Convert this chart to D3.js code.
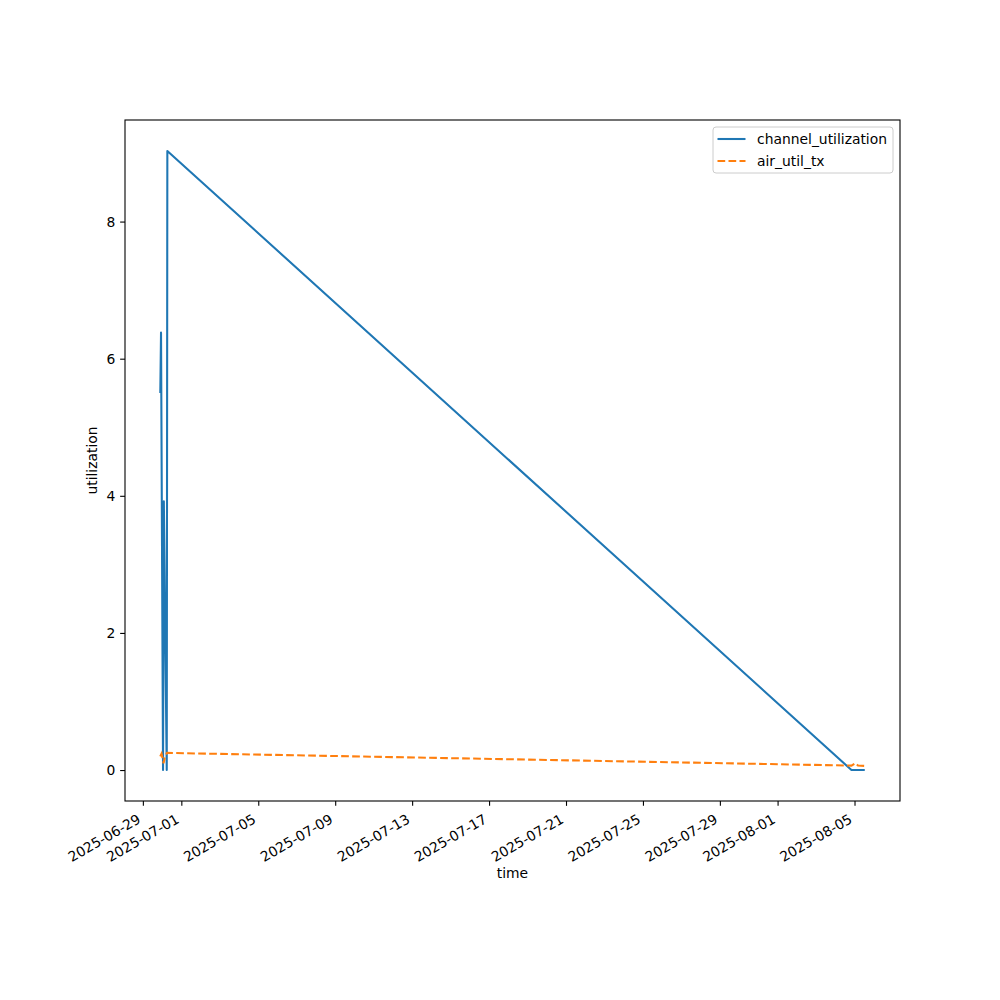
<!DOCTYPE html>
<html lang="en">
<head>
    <meta charset="UTF-8">
    <script src="https://d3js.org/d3.v7.min.js"></script>
    <title>utilization</title>
    <style>
        body { margin: 0; background: #fff; }
        svg text { font-family: "DejaVu Sans", sans-serif; font-size: 13.89px; fill: #000; }
    </style>
</head>
<body>
    <div id="chart"></div>
    <script>
        // data
        const chanTimes = ["2025-06-29T21:45", "2025-06-29T22:40", "2025-06-30T01:10", "2025-06-30T02:10",
                           "2025-06-30T05:48", "2025-06-30T06:33", "2025-08-04T20:12", "2025-08-05T12:48"];
        const chanUtil = [5.5, 6.38, 0, 3.92, 0, 9.03, 0, 0];

        const airTimes = ["2025-06-29T21:40", "2025-06-29T23:19", "2025-06-30T01:48", "2025-06-30T03:41",
                          "2025-06-30T06:10", "2025-08-04T20:12", "2025-08-05T01:12", "2025-08-05T04:19",
                          "2025-08-05T12:48"];
        const airUtil = [0.2, 0.24, 0.1, 0.2, 0.25, 0.065, 0.1, 0.065, 0.06];

        const xTicks = ["2025-06-29", "2025-07-01", "2025-07-05", "2025-07-09", "2025-07-13", "2025-07-17",
                        "2025-07-21", "2025-07-25", "2025-07-29", "2025-08-01", "2025-08-05"];
        const yTicks = [0, 2, 4, 6, 8];

        const seriesNames = ["channel_utilization", "air_util_tx"];
        const seriesColors = ["#1f77b4", "#ff7f0e"];

        const w = 1000, h = 1000;
        const mLeft = 125, mRight = 900, mTop = 120, mBottom = 801;

        const parseT = d3.timeParse("%Y-%m-%dT%H:%M");
        const parseD = d3.timeParse("%Y-%m-%d");
        const fmt = d3.timeFormat("%Y-%m-%d");

        const chan = chanTimes.map((t, i) => ({t: parseT(t), v: chanUtil[i]}));
        const air = airTimes.map((t, i) => ({t: parseT(t), v: airUtil[i]}));

        // 5% margins like matplotlib
        const tExt = d3.extent(chan.concat(air), d => d.t);
        const tPad = (tExt[1] - tExt[0]) * 0.05;
        const vExt = d3.extent(chan.concat(air), d => d.v);
        const vPad = (vExt[1] - vExt[0]) * 0.05;

        const x = d3.scaleTime()
            .domain([new Date(+tExt[0] - tPad), new Date(+tExt[1] + tPad)])
            .range([mLeft, mRight]);
        const y = d3.scaleLinear()
            .domain([vExt[0] - vPad, vExt[1] + vPad])
            .range([mBottom, mTop]);

        const svg = d3.select("#chart").append("svg")
            .attr("width", w)
            .attr("height", h);

        svg.append("rect").attr("width", w).attr("height", h).attr("fill", "#fff");

        const line = d3.line().x(d => x(d.t)).y(d => y(d.v));

        svg.append("path")
            .datum(chan)
            .attr("d", line)
            .attr("fill", "none")
            .attr("stroke", seriesColors[0])
            .attr("stroke-width", 2.08)
            .attr("stroke-linejoin", "round");

        svg.append("path")
            .datum(air)
            .attr("d", line)
            .attr("fill", "none")
            .attr("stroke", seriesColors[1])
            .attr("stroke-width", 2.08)
            .attr("stroke-dasharray", "7.7,3.3");

        // frame
        svg.append("rect")
            .attr("x", mLeft).attr("y", mTop)
            .attr("width", mRight - mLeft).attr("height", mBottom - mTop)
            .attr("fill", "none").attr("stroke", "#000").attr("stroke-width", 1.1);

        // x axis
        const xAxis = d3.axisBottom(x)
            .tickValues(xTicks.map(parseD))
            .tickFormat(fmt)
            .tickSize(4.86)
            .tickPadding(0);
        const gx = svg.append("g")
            .attr("transform", "translate(0," + mBottom + ")")
            .call(xAxis);
        gx.select(".domain").remove();
        gx.selectAll(".tick line").attr("stroke", "#000").attr("stroke-width", 1.1);
        gx.selectAll(".tick text")
            .attr("text-anchor", "end")
            .attr("y", 0)
            .attr("dy", "0.75em")
            .attr("transform", "translate(-7,12) rotate(-30)");

        // y axis
        const yAxis = d3.axisLeft(y)
            .tickValues(yTicks)
            .tickFormat(d3.format("d"))
            .tickSize(4.86)
            .tickPadding(4.86);
        const gy = svg.append("g")
            .attr("transform", "translate(" + mLeft + ",0)")
            .call(yAxis);
        gy.select(".domain").remove();
        gy.selectAll(".tick line").attr("stroke", "#000").attr("stroke-width", 1.1);

        // axis labels
        svg.append("text")
            .attr("x", (mLeft + mRight) / 2)
            .attr("y", 878)
            .attr("text-anchor", "middle")
            .text("time");

        svg.append("text")
            .attr("transform", "translate(97," + ((mTop + mBottom) / 2) + ") rotate(-90)")
            .attr("text-anchor", "middle")
            .text("utilization");

        // legend
        const legend = svg.append("g").attr("transform", "translate(713,127)");
        legend.append("rect")
            .attr("width", 180).attr("height", 46)
            .attr("rx", 3)
            .attr("fill", "#fff").attr("fill-opacity", 0.8)
            .attr("stroke", "#ccc");
        seriesNames.forEach((name, i) => {
            const ly = 12 + i * 22;
            legend.append("line")
                .attr("x1", 4.5).attr("x2", 32.5)
                .attr("y1", ly).attr("y2", ly)
                .attr("stroke", seriesColors[i])
                .attr("stroke-width", 2.08)
                .attr("stroke-dasharray", i === 1 ? "7.7,3.3" : null);
            legend.append("text")
                .attr("x", 44)
                .attr("y", ly)
                .attr("dy", "0.35em")
                .text(name);
        });
    </script>
</body>
</html>
